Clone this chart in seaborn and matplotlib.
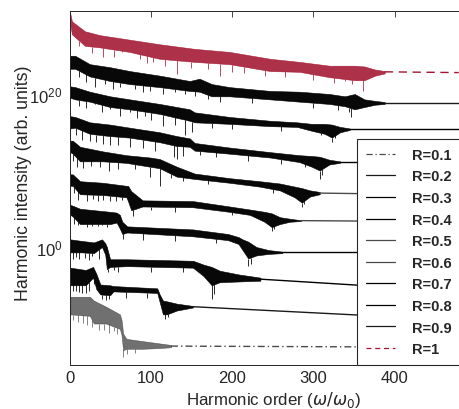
import numpy as np
import pandas as pd
import matplotlib
matplotlib.use("Agg")
import matplotlib.pyplot as plt
from matplotlib.lines import Line2D
from matplotlib.ticker import NullLocator
import seaborn as sns

# Harmonic spectra for different R, stacked with vertical offsets.
# Orders are harmonic numbers; intensities are log10 values.
# Each curve: plateau band (upper / lower edge), deep dips, and the tail past cut-off.

R_labels = ["R=0.1", "R=0.2", "R=0.3", "R=0.4", "R=0.5",
            "R=0.6", "R=0.7", "R=0.8", "R=0.9", "R=1"]

# R = 0.1
h_01 = [1, 25, 30, 45, 62, 64, 66, 70, 90, 111, 125]
top_01 = [-6.5, -6.5, -7.0, -7.8, -8.8, -9.5, -11.3, -12.0, -12.3, -12.6, -12.8]
bot_01 = [-8.8, -9.0, -10.0, -10.0, -10.7, -11.5, -13.5, -13.3, -13.3, -13.2, -13.1]
tail_h_01 = [125, 479]
tail_01 = [-12.95, -13.1]
dip_h_01 = [4, 10, 16, 22, 28, 36, 42, 48, 55, 58, 66, 71, 80]
dip_01 = [-9.6, -9.8, -9.9, -10.2, -10.4, -10.8, -10.8, -11.2, -11.0, -11.4, -14.4, -14.0, -13.8]

# R = 0.2
h_02 = [1, 20, 29, 33, 38, 50, 54, 108, 111, 115, 120, 132, 152]
top_02 = [-2.7, -3.0, -2.6, -3.5, -4.9, -5.0, -5.1, -5.4, -6.2, -7.0, -7.1, -7.4, -7.7]
bot_02 = [-5.0, -5.0, -4.0, -5.5, -6.2, -6.3, -5.8, -6.0, -7.2, -8.8, -8.8, -8.3, -7.9]
tail_h_02 = [152, 357, 479]
tail_02 = [-7.8, -8.9, -9.2]
dip_h_02 = [4, 8, 12, 15, 20, 24, 30, 40, 45, 49, 70, 95, 117, 121]
dip_02 = [-5.8, -5.8, -5.9, -6.0, -6.0, -5.7, -4.8, -6.8, -6.9, -6.8, -6.6, -6.6, -9.4, -9.1]

# R = 0.3
h_03 = [1, 15, 30, 40, 44, 46, 50, 71, 152, 165, 175, 185, 209, 235]
top_03 = [1.0, 0.8, 0.6, 1.0, 0.5, 0.0, -1.6, -1.6, -1.8, -2.3, -2.6, -3.1, -3.6, -4.0]
bot_03 = [-0.7, -0.7, -0.8, 0.0, -1.0, -2.9, -2.6, -2.5, -2.7, -3.8, -5.0, -4.6, -4.5, -4.4]
tail_h_03 = [235, 357, 479]
tail_03 = [-4.2, -5.0, -5.3]
dip_h_03 = [4, 8, 12, 19, 24, 28, 36, 47, 55, 60, 100, 140, 175, 178]
dip_03 = [-1.6, -1.3, -1.5, -1.4, -1.7, -1.2, -1.5, -3.2, -3.0, -3.2, -3.2, -3.3, -6.8, -6.2]

# R = 0.4
h_04 = [1, 4, 13, 50, 58, 62, 65, 71, 152, 195, 208, 213, 220, 230, 245, 262]
top_04 = [5.5, 5.4, 5.0, 4.6, 4.5, 4.2, 3.3, 2.7, 2.3, 1.7, 1.3, 1.0, 0.7, 0.0, -0.4, -0.6]
bot_04 = [4.2, 4.0, 3.0, 3.0, 3.2, 2.4, 1.7, 1.9, 1.4, 0.9, 0.4, -0.4, -1.5, -1.1, -0.9, -0.8]
tail_h_04 = [262, 479]
tail_04 = [-0.7, -0.7]
dip_h_04 = [5, 10, 17, 22, 28, 35, 40, 46, 66, 90, 130, 180, 220, 223]
dip_04 = [3.0, 2.9, 3.0, 2.6, 2.8, 2.7, 2.9, 2.6, 1.0, 0.9, 0.8, 0.5, -2.5, -2.2]

# R = 0.5
h_05 = [1, 4, 13, 41, 70, 72, 76, 90, 152, 197, 222, 240, 249, 259, 271, 285]
top_05 = [9.5, 9.5, 8.6, 8.4, 8.0, 8.0, 7.3, 6.1, 6.0, 5.3, 4.9, 4.6, 4.4, 3.9, 3.7, 3.5]
bot_05 = [8.0, 8.0, 6.9, 6.8, 6.5, 6.0, 4.8, 5.3, 5.2, 4.6, 4.2, 3.3, 2.6, 3.0, 3.3, 3.4]
tail_h_05 = [285, 479]
tail_05 = [3.45, 3.3]
dip_h_05 = [5, 10, 21, 29, 35, 41, 50, 57, 65, 78, 100, 130, 200, 249, 252]
dip_05 = [7.0, 6.2, 6.0, 6.3, 6.0, 6.1, 6.0, 6.0, 6.2, 4.1, 4.8, 4.6, 4.2, 2.1, 2.4]

# R = 0.6
h_06 = [1, 4, 13, 41, 70, 99, 111, 132, 154, 197, 234, 259, 277, 286, 296, 308]
top_06 = [13.9, 13.9, 13.1, 12.5, 12.0, 11.7, 11.5, 10.5, 9.6, 9.0, 8.6, 8.3, 7.9, 7.7, 7.4, 7.2]
bot_06 = [12.4, 12.2, 11.2, 11.2, 11.0, 10.5, 10.3, 9.2, 8.9, 8.4, 7.9, 7.4, 6.5, 5.8, 6.6, 6.9]
tail_h_06 = [308, 479]
tail_06 = [7.05, 6.8]
dip_h_06 = [4, 9, 17, 26, 38, 48, 60, 80, 99, 111, 125, 140, 170, 250, 286, 289]
dip_06 = [11.2, 10.5, 10.3, 10.6, 10.4, 10.0, 10.2, 10.2, 9.2, 8.0, 9.0, 8.6, 8.3, 7.0, 5.2, 5.6]

# R = 0.7
h_07 = [1, 7, 25, 50, 74, 111, 132, 148, 154, 197, 247, 283, 298, 308, 320, 333]
top_07 = [17.1, 17.0, 16.3, 16.0, 15.6, 15.0, 14.5, 14.2, 13.6, 13.0, 12.4, 12.0, 11.9, 11.8, 11.4, 11.2]
bot_07 = [15.5, 15.6, 14.8, 14.5, 14.3, 13.7, 13.2, 13.1, 12.6, 12.2, 11.7, 11.1, 10.5, 10.0, 10.8, 11.0]
tail_h_07 = [333, 479]
tail_07 = [11.1, 11.1]
dip_h_07 = [8, 15, 25, 33, 41, 50, 60, 75, 90, 105, 128, 132, 140, 160, 180, 220, 260, 290, 308, 311]
dip_07 = [14.6, 14.0, 13.8, 13.7, 13.5, 13.4, 13.3, 13.1, 12.9, 12.5, 11.8, 11.5, 11.9, 12.0,
          11.8, 11.2, 10.9, 10.4, 8.9, 9.4]

# R = 0.8
h_08 = [1, 7, 25, 50, 74, 111, 148, 154, 197, 247, 280, 298, 314, 323, 333, 345]
top_08 = [21.0, 20.9, 20.3, 19.7, 19.3, 18.7, 18.0, 17.6, 17.0, 16.5, 16.3, 16.1, 16.1, 16.0, 15.7, 15.5]
bot_08 = [19.5, 19.3, 19.0, 18.3, 18.0, 17.4, 16.5, 16.3, 16.1, 15.8, 15.7, 15.2, 14.8, 14.3, 15.0, 15.3]
tail_h_08 = [345, 479]
tail_08 = [15.4, 15.4]
dip_h_08 = [12, 20, 31, 40, 50, 62, 74, 83, 93, 100, 115, 130, 142, 151, 175, 200, 260, 310, 323, 327]
dip_08 = [18.4, 18.2, 18.7, 17.6, 18.0, 17.1, 17.6, 16.9, 17.1, 16.6, 15.8, 15.9, 14.6, 15.0,
          15.6, 15.4, 15.2, 14.6, 13.7, 14.2]

# R = 0.9
h_09 = [1, 7, 25, 50, 74, 111, 148, 160, 175, 197, 247, 283, 320, 339, 351, 363, 376, 388]
top_09 = [25.0, 25.0, 23.9, 23.5, 23.0, 22.4, 21.7, 22.0, 21.3, 20.9, 20.4, 20.3, 20.0, 19.7,
          20.0, 19.3, 19.1, 18.95]
bot_09 = [23.3, 23.3, 22.3, 21.7, 21.3, 20.9, 20.4, 20.3, 19.7, 19.7, 19.3, 19.0, 18.7, 18.4,
          18.0, 18.3, 18.6, 18.7]
tail_h_09 = [388, 479]
tail_09 = [18.8, 18.8]
dip_h_09 = [12, 20, 31, 44, 53, 62, 81, 90, 99, 115, 130, 142, 155, 170, 185, 225, 300, 330, 344, 347]
dip_09 = [22.2, 21.6, 20.9, 21.3, 20.6, 20.9, 20.7, 20.2, 20.4, 20.0, 20.3, 20.0, 19.8, 19.3,
          19.0, 18.8, 18.2, 17.9, 17.6, 17.0]

# R = 1
h_10 = [0.5, 1, 3, 19, 37, 74, 111, 154, 197, 247, 283, 320, 351, 363, 376, 388]
top_10 = [30.85, 30.5, 29.5, 28.2, 27.7, 27.1, 26.5, 25.9, 25.5, 24.6, 24.2, 23.7, 23.7, 23.6, 23.2, 23.0]
bot_10 = [29.2, 29.0, 27.8, 26.3, 26.1, 25.5, 24.6, 24.2, 23.9, 23.0, 22.9, 22.2, 21.8, 21.8, 22.4, 22.7]
tail_h_10 = [388, 479]
tail_10 = [22.9, 22.8]
dip_h_10 = [12, 28, 41, 55, 65, 87, 95, 103, 118, 132, 150, 170, 185, 200, 215, 240, 265,
            300, 325, 339, 348, 361]
dip_10 = [26.3, 25.4, 24.8, 24.9, 25.5, 24.6, 24.0, 24.2, 23.6, 22.6, 23.4, 23.3, 22.4, 22.9,
          22.8, 22.3, 22.2, 21.8, 21.5, 21.7, 21.3, 20.4]

RED = "#A2142F"
line_colors = ["#4a4a4a", "#1a1a1a", "#000000", "#000000", "#4a4a4a",
               "#4a4a4a", "#000000", "#000000", "#1a1a1a", RED]
fill_colors = ["#333333"] + ["#000000"] * 8 + [RED]
fill_alpha = [0.7] + [0.97] * 8 + [0.88]
line_styles = [(0, (5, 2.2, 1, 2.2))] + ["-"] * 8 + [(0, (6, 4))]

curves = [
    (h_01, top_01, bot_01, tail_h_01, tail_01, dip_h_01, dip_01),
    (h_02, top_02, bot_02, tail_h_02, tail_02, dip_h_02, dip_02),
    (h_03, top_03, bot_03, tail_h_03, tail_03, dip_h_03, dip_03),
    (h_04, top_04, bot_04, tail_h_04, tail_04, dip_h_04, dip_04),
    (h_05, top_05, bot_05, tail_h_05, tail_05, dip_h_05, dip_05),
    (h_06, top_06, bot_06, tail_h_06, tail_06, dip_h_06, dip_06),
    (h_07, top_07, bot_07, tail_h_07, tail_07, dip_h_07, dip_07),
    (h_08, top_08, bot_08, tail_h_08, tail_08, dip_h_08, dip_08),
    (h_09, top_09, bot_09, tail_h_09, tail_09, dip_h_09, dip_09),
    (h_10, top_10, bot_10, tail_h_10, tail_10, dip_h_10, dip_10),
]

sns.set_theme(style="white")
AX_COLOR = "#262626"
plt.rcParams.update({
    "font.family": ["Liberation Sans", "DejaVu Sans"],
    "mathtext.fontset": "dejavusans",
    "axes.edgecolor": AX_COLOR,
    "axes.linewidth": 0.7,
    "text.color": AX_COLOR,
    "axes.labelcolor": AX_COLOR,
})

fig = plt.figure(figsize=(4.59, 4.10), dpi=100)
ax = fig.add_axes([69.5 / 459, 44 / 410, 390 / 459, 354 / 410])
ax.set_yscale("log")

for i, (h, top, bot, th, ty, dh, dy) in enumerate(curves):
    h = np.asarray(h, float)
    top = np.asarray(top, float)
    bot = np.asarray(bot, float)
    ax.fill_between(h, 10.0 ** top, 10.0 ** bot, color=fill_colors[i],
                    alpha=fill_alpha[i], lw=0.4, zorder=2)
    tail = pd.DataFrame({"order": th, "intensity": 10.0 ** np.asarray(ty, float)})
    sns.lineplot(data=tail, x="order", y="intensity", ax=ax,
                 color=line_colors[i], linestyle=line_styles[i], lw=1.0, zorder=2)
    spike_from = 10.0 ** np.interp(dh, h, bot)
    ax.vlines(dh, 10.0 ** np.asarray(dy, float), spike_from,
              color=fill_colors[i], alpha=fill_alpha[i], lw=0.6, zorder=2)

ax.set_xlim(0, 480)
ax.set_ylim(10 ** -15.42, 10 ** 30.85)
ax.set_xticks([0, 100, 200, 300, 400])
ax.set_yticks([1e0, 1e20])
ax.yaxis.set_minor_locator(NullLocator())
ax.tick_params(direction="in", top=True, right=False, length=4, width=0.6,
               colors=AX_COLOR, labelsize=12)
ax.tick_params(axis="x", pad=3.5)
ax.tick_params(axis="y", pad=5)
ax.spines["right"].set_visible(False)

ax.set_xlabel(r"Harmonic order ($\omega/\omega_0$)", fontsize=12.2)
ax.set_ylabel("Harmonic intensity (arb. units)", fontsize=12.8)
ax.xaxis.label.set_va("baseline")
ax.xaxis.set_label_coords(0.523, -0.109)
ax.yaxis.set_label_coords(-0.096, 0.515)

handles = [Line2D([], [], color=line_colors[i], linestyle=line_styles[i], lw=0.9)
           for i in range(len(R_labels))]
handles[-1] = Line2D([], [], color=RED, linestyle=(0, (4, 3)), lw=0.9)
leg = ax.legend(handles, R_labels, loc="upper left", bbox_to_anchor=(0.737, 0.638),
                borderaxespad=0, frameon=True, fancybox=False, framealpha=1,
                edgecolor=AX_COLOR, prop={"weight": "bold", "size": 10.5},
                handlelength=2.0, handletextpad=1.2, labelspacing=0.52,
                borderpad=0.6)
leg.get_frame().set_linewidth(0.8)
leg.set_zorder(5)

fig.savefig("out.png", dpi=100)
